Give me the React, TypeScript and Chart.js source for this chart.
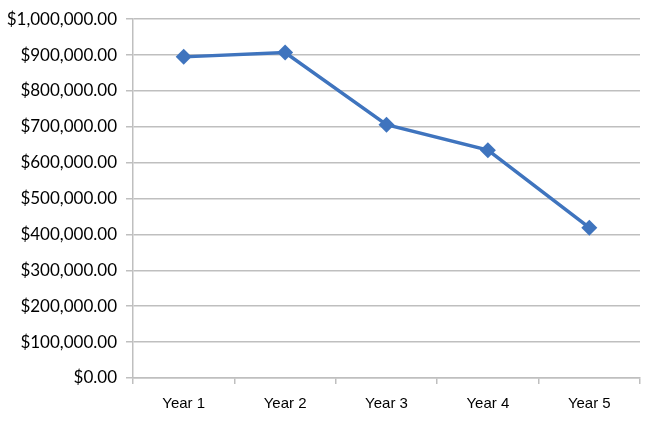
import { useEffect, useRef } from 'react'
import { Chart, registerables } from 'chart.js'

Chart.register(...registerables)

const years = ['Year 1', 'Year 2', 'Year 3', 'Year 4', 'Year 5']
const amounts = [895000, 907000, 706000, 635000, 419000]
const yMin = 0
const yMax = 1000000
const yStep = 100000

const lineBlue = '#3F74BE'
const gridGray = '#BFBFBF'

const money = (v: number) =>
  '$' + v.toLocaleString('en-US', { minimumFractionDigits: 2, maximumFractionDigits: 2 })

export default function App() {
  const canvasRef = useRef<HTMLCanvasElement>(null)
  const chartRef = useRef<Chart | null>(null)

  useEffect(() => {
    let cancelled = false

    const build = () => {
      if (cancelled || !canvasRef.current) return
      if (chartRef.current) chartRef.current.destroy()
      const ctx = canvasRef.current.getContext('2d')
      if (!ctx) return

      chartRef.current = new Chart(ctx, {
        type: 'line',
        data: {
          labels: years,
          datasets: [{
            data: amounts,
            borderColor: lineBlue,
            backgroundColor: lineBlue,
            borderWidth: 3.5,
            pointStyle: 'rectRot',
            pointRadius: 8,
            pointBorderWidth: 0,
            tension: 0,
          }],
        },
        options: {
          animation: false,
          responsive: true,
          maintainAspectRatio: false,
          layout: { padding: { top: 10, right: 10, bottom: 0, left: 0 } },
          plugins: {
            legend: { display: false },
            tooltip: { enabled: false },
          },
          scales: {
            x: {
              offset: true,
              afterFit: (scale: any) => { scale.height = 44 },
              grid: {
                offset: true,
                drawOnChartArea: false,
                drawTicks: true,
                tickLength: 6,
                color: gridGray,
                lineWidth: 1.5,
              },
              border: { display: true, color: gridGray, width: 1.5 },
              ticks: {
                color: '#000',
                padding: 11,
                font: { family: '"Liberation Sans", Arial, sans-serif', size: 15 },
              },
            },
            y: {
              min: yMin,
              max: yMax,
              afterFit: (scale: any) => { scale.width = 133 },
              grid: {
                color: gridGray,
                lineWidth: 1.5,
                tickLength: 7,
              },
              border: { display: true, color: gridGray, width: 1.5 },
              ticks: {
                stepSize: yStep,
                color: '#000',
                padding: 9,
                font: { family: 'Lato, "Open Sans", sans-serif', size: 17 },
                callback: (v: any) => money(Number(v)),
              },
            },
          },
        },
      })
    }

    Promise.all([
      document.fonts.load('17px Lato'),
      document.fonts.load('15px "Liberation Sans"'),
    ]).then(build, build)

    return () => {
      cancelled = true
      if (chartRef.current) {
        chartRef.current.destroy()
        chartRef.current = null
      }
    }
  }, [])

  return (
    <div style={{ position: 'fixed', left: 0, top: 0, width: 650, height: 422, background: '#fff' }}>
      <canvas ref={canvasRef} />
    </div>
  )
}
